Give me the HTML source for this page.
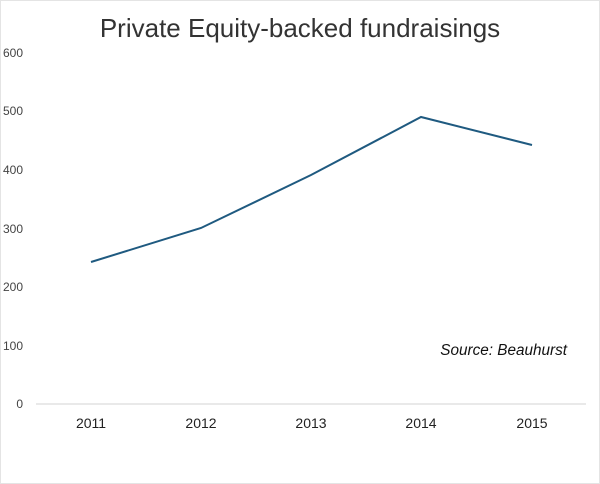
<!DOCTYPE html>
<html><head><style>
html,body{margin:0;padding:0;background:#fff;}
body{width:600px;height:484px;overflow:hidden;}
</style></head><body>
<svg width="600" height="484" xmlns="http://www.w3.org/2000/svg" style="display:block">
<rect x="0.5" y="0.5" width="599" height="483" fill="#fff" stroke="#e4e4e4"/>
<text x="300" y="37" text-anchor="middle" font-family="Liberation Sans, sans-serif" font-size="26" fill="#333">Private Equity-backed fundraisings</text>
<g font-family="Liberation Sans, sans-serif" font-size="12" fill="#444" text-anchor="end">
<text x="23" y="57">600</text>
<text x="23" y="115">500</text>
<text x="23" y="174">400</text>
<text x="23" y="233">300</text>
<text x="23" y="291">200</text>
<text x="23" y="350">100</text>
<text x="23" y="408">0</text>
</g>
<line x1="36" y1="404" x2="586" y2="404" stroke="#e2e2e2" stroke-width="1.5"/>
<g font-family="Liberation Sans, sans-serif" font-size="14" fill="#222" text-anchor="middle">
<text x="91" y="428">2011</text>
<text x="201" y="428">2012</text>
<text x="311" y="428">2013</text>
<text x="421" y="428">2014</text>
<text x="532" y="428">2015</text>
</g>
<polyline points="91,262 201,228 311,175 421,117 532,145" fill="none" stroke="#1f5a80" stroke-width="2"/>
<text x="567" y="355" text-anchor="end" font-family="Liberation Sans, sans-serif" font-size="15.3" font-style="italic" fill="#111">Source: Beauhurst</text>
</svg>
</body></html>
